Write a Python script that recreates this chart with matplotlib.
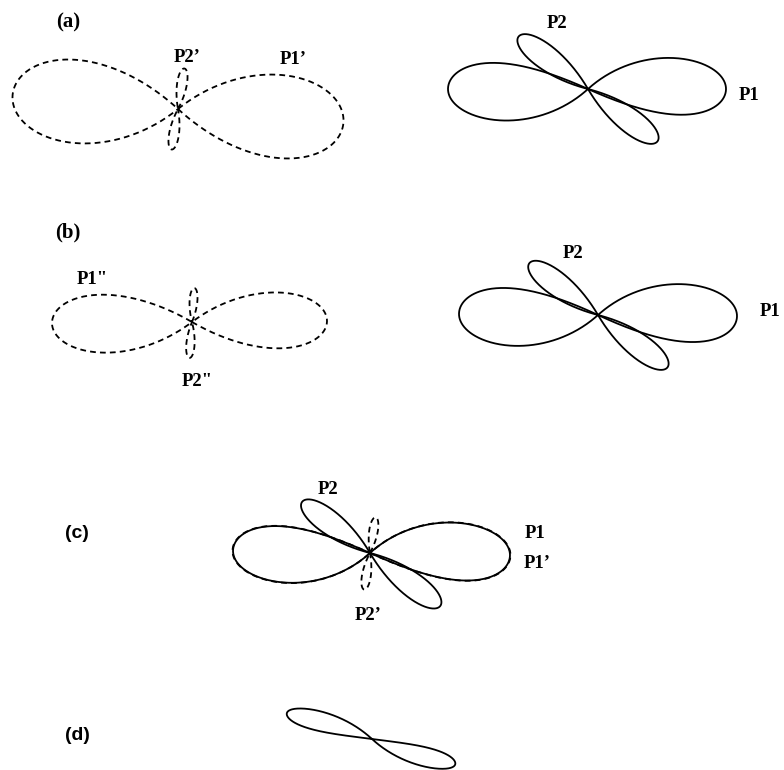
import numpy as np
import matplotlib.pyplot as plt

# Figure-eight radiation patterns, canvas units are pixels (y grows downward)
panel_labels = ["(a)", "(b)", "(c)", "(d)"]
panel_label_x = [68, 68, 77, 77]
panel_label_y = [22, 232, 533, 735]
panel_label_font = ["Liberation Serif", "Liberation Serif", "Liberation Sans", "Liberation Sans"]
panel_label_size = [15, 15, 14, 14]

# one entry per pattern
pat_cx = [178, 178, 588, 588, 192, 192, 598, 598, 370, 370, 370, 370, 372]
pat_cy = [109, 109, 89, 89, 322, 322, 315, 315, 553, 553, 553, 553, 739]
pat_angle = [-4.8, 81, 0, 143, 0.5, 86, -0.5, 143, -1, -1, 143, 81, -17]
pat_len_fwd = [166, 41, 138, 87, 135, 34, 139, 86, 140, 140.5, 85, 36, 87]
pat_len_back = [166, 41, 140, 87, 140, 36, 139, 87, 137, 137.5, 88, 37, 89]
pat_half_width = [0.25, 0.12, 0.205, 0.14, 0.207, 0.115, 0.207, 0.14, 0.205, 0.206, 0.14, 0.12, 0.11]
pat_twist = [3, 0, 9, 0, 3, 0, 9, 0, 10, 10, 0, 0, -8]  # degrees, at the crossing point
pat_dashed = [True, True, False, False, True, True, False, False, False, True, False, True, False]

# curve labels
lab_text = ["P2\u2019", "P1\u2019", "P2", "P1", 'P1"', 'P2"', "P2", "P1", "P2", "P1", "P1\u2019", "P2\u2019"]
lab_x = [187, 293, 557, 749, 92, 197, 573, 770, 328, 535, 537, 368]
lab_y = [58, 60, 24, 95, 280, 382, 253, 312, 490, 533, 563, 615]


def pattern_xy(cx, cy, ang, lf, lb, hw, twist):
    # each lobe is a rose petal r = cos(k*phi); k set by how slim the lobe is
    k = max(0.56 / hw, 2.0)
    half = np.pi / (2 * k)
    phi = np.linspace(-half, half, 400)
    r = np.cos(k * phi)
    vmax = np.max(r * np.sin(phi))
    s = hw / vmax
    u1, v1 = lf * r * np.cos(phi), lf * s * r * np.sin(phi)
    u2, v2 = -lb * r * np.cos(phi), -lb * s * r * np.sin(phi)
    u = np.concatenate([u1, u2, u1[:1]])
    v = np.concatenate([v1, v2, v1[:1]])
    # turn the inner part of each lobe a little, fading out toward the tips
    length = np.where(u >= 0, lf, lb)
    rho = np.hypot(u, v) / length
    b = np.deg2rad(twist) * np.clip(1 - rho, 0, 1) ** 1.5
    u, v = u * np.cos(b) - v * np.sin(b), u * np.sin(b) + v * np.cos(b)
    a = np.deg2rad(ang)
    x = cx + u * np.cos(a) - v * np.sin(a)
    y = cy - (u * np.sin(a) + v * np.cos(a))
    return x, y


fig = plt.figure(figsize=(7.84, 7.70), dpi=100)
ax = fig.add_axes([0, 0, 1, 1])
ax.set_xlim(0, 784)
ax.set_ylim(770, 0)
ax.axis("off")

for i in range(len(pat_cx)):
    x, y = pattern_xy(pat_cx[i], pat_cy[i], pat_angle[i], pat_len_fwd[i],
                      pat_len_back[i], pat_half_width[i], pat_twist[i])
    if pat_dashed[i]:
        ax.plot(x, y, color="black", lw=1.3, dashes=[3.2, 2.3])
    else:
        ax.plot(x, y, color="black", lw=1.3)

for txt, x, y, fam, fs in zip(panel_labels, panel_label_x, panel_label_y,
                              panel_label_font, panel_label_size):
    ax.text(x, y, txt, ha="center", va="center", fontsize=fs,
            fontweight="bold", family=fam)

for txt, x, y in zip(lab_text, lab_x, lab_y):
    ax.text(x, y, txt, ha="center", va="center", fontsize=13.5,
            fontweight="bold", family="Liberation Serif")

fig.savefig("out.png", dpi=100, facecolor="white")
